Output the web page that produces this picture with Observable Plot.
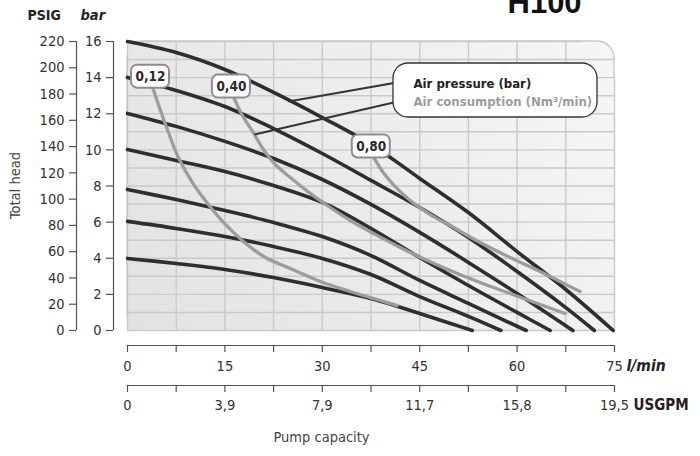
<!DOCTYPE html>
<html>
<head>
<meta charset="utf-8">
<script src="https://cdn.jsdelivr.net/npm/d3@7"></script>
<script src="https://cdn.jsdelivr.net/npm/@observablehq/plot@0.6"></script>
<style>
  html, body { margin: 0; padding: 0; background: #fff; }
  svg text { font-stretch: condensed; }
</style>
</head>
<body>
<div id="chart"></div>
<script>
// ---------- axis ticks & labels ----------
const lminTicks = [0, 15, 30, 45, 60, 75];
const lminMinor = [0, 7.5, 15, 22.5, 30, 37.5, 45, 52.5, 60, 67.5, 75];
const usgpmLabels = ["0", "3,9", "7,9", "11,7", "15,8", "19,5"];
const barTicks = [0, 2, 4, 6, 8, 10, 12, 14, 16];
const psigTicks = [0, 20, 40, 60, 80, 100, 120, 140, 160, 180, 200, 220];
const gridX = [7.5, 15, 22.5, 30, 37.5, 45, 52.5, 60, 67.5];
const gridY = [1, 2, 3, 4, 5, 6, 7, 8, 9, 10, 11, 12, 13, 14, 15];

// ---------- air pressure curves (flow l/min, head bar) ----------
const p16_q = [0, 7.5, 15, 22.5, 30, 37.5, 45, 52.5, 60, 67.5, 74.8];
const p16_h = [16.0, 15.39, 14.45, 13.18, 11.79, 10.30, 8.42, 6.53, 4.37, 2.27, 0];
const p14_q = [0, 7.5, 15, 22.5, 30, 37.5, 45, 52.5, 60, 67.5, 71.9];
const p14_h = [14.01, 13.29, 12.40, 11.18, 9.80, 8.31, 6.81, 5.15, 3.27, 1.27, 0];
const p12_q = [0, 7.5, 15, 22.5, 30, 37.5, 45, 52.5, 60, 68.6];
const p12_h = [12.02, 11.30, 10.47, 9.52, 8.36, 6.98, 5.43, 3.77, 2.05, 0];
const p10_q = [0, 7.5, 15, 22.5, 30, 37.5, 45, 52.5, 60, 65.1];
const p10_h = [10.02, 9.41, 8.80, 8.03, 7.09, 5.65, 4.04, 2.49, 1.0, 0];
const p8_q = [0, 7.5, 15, 22.5, 30, 37.5, 45, 52.5, 61.4];
const p8_h = [7.81, 7.25, 6.64, 5.98, 5.20, 4.15, 2.77, 1.50, 0];
const p6_q = [0, 7.5, 15, 22.5, 30, 37.5, 45, 52.5, 57.5];
const p6_h = [6.04, 5.65, 5.20, 4.65, 3.99, 3.10, 1.88, 0.78, 0];
const p4_q = [0, 7.5, 15, 22.5, 30, 37.5, 45, 50, 53.1];
const p4_h = [3.99, 3.71, 3.38, 2.93, 2.38, 1.77, 0.94, 0.36, 0];

// ---------- air consumption curves ----------
const consLabels = ["0,12", "0,40", "0,80"];
const c012_q = [3.85, 5.08, 6.31, 7.69, 10.0, 12.46, 15.08, 17.85, 21.23, 25.08, 29.69, 34.31, 38.92, 41.54];
const c012_h = [13.5, 12.18, 10.96, 9.69, 8.19, 6.98, 5.87, 4.93, 4.04, 3.43, 2.71, 2.16, 1.66, 1.38];
const c040_q = [16.31, 17.69, 19.38, 20.92, 22.77, 25.08, 28.15, 31.23, 34.31, 38.15, 42.0, 45.85, 49.69, 54.31, 58.92, 63.54, 67.38];
const c040_h = [12.95, 11.90, 10.96, 10.02, 9.19, 8.47, 7.59, 6.81, 6.09, 5.32, 4.60, 3.93, 3.32, 2.66, 2.05, 1.44, 0.94];
const c080_q = [37.85, 39.38, 41.23, 43.54, 46.62, 49.69, 54.31, 58.92, 63.54, 66.62, 69.69];
const c080_h = [9.63, 8.75, 7.97, 7.20, 6.42, 5.81, 4.87, 4.04, 3.27, 2.71, 2.16];

// ---------- texts ----------
const titleText = "H100";
const legendTexts = ["Air pressure (bar)", "Air consumption (Nm³/min)"];
const xUnitLabels = ["l/min", "USGPM"];
const xTitle = "Pump capacity";
const yTitle = "Total head";
const yUnitLabels = ["PSIG", "bar"];

// ---------- build tables ----------
const pressureCurves = [[p16_q, p16_h], [p14_q, p14_h], [p12_q, p12_h], [p10_q, p10_h], [p8_q, p8_h], [p6_q, p6_h], [p4_q, p4_h]];
const pressureData = pressureCurves.flatMap(([qs, hs], i) => qs.map((q, j) => ({curve: i, q, h: hs[j]})));
const consCurves = [[c012_q, c012_h], [c040_q, c040_h], [c080_q, c080_h]];
const consData = consCurves.flatMap(([qs, hs], i) => qs.map((q, j) => ({curve: consLabels[i], q, h: hs[j]})));
const consLabelData = consCurves.map(([qs, hs], i) => ({label: consLabels[i], q: qs[0], h: hs[0]}));

// ---------- layout helpers (pixel -> data units for annotations) ----------
const W = 700, H = 456, ML = 127, MR = 86, MT = 41, MB = 126;
const QMAX = 75, HMAX = 16;
const px2x = p => (p - ML) / (W - ML - MR) * QMAX;
const py2y = p => (H - MB - p) / (H - MB - MT) * HMAX;
const dxPx = p => p / (W - ML - MR) * QMAX;
const dyPx = p => p / (H - MB - MT) * HMAX;
const psi2bar = v => v * HMAX / 220;

const font = "'DejaVu Sans Condensed', 'DejaVu Sans', sans-serif";
const axisColor = "#555";
const labelColor = "#333";
const gridColor = "#c9c9c9";

const bw = dxPx(19), bh = dyPx(11.5);

const chart = Plot.plot({
  width: W, height: H,
  marginLeft: ML, marginRight: MR, marginTop: MT, marginBottom: MB,
  x: {domain: [0, QMAX], axis: null},
  y: {domain: [0, HMAX], axis: null},
  style: {fontFamily: font, fontStretch: "condensed", background: "white", overflow: "visible"},
  marks: [
    // plot background with rounded top-right corner
    Plot.rect([0], {x1: 0, x2: QMAX, y1: 0, y2: HMAX, fill: "url(#bgGrad)", stroke: gridColor, strokeWidth: 1.4, rx: 17}),
    Plot.rect([0], {x1: 0, x2: 70, y1: 0, y2: HMAX, fill: "url(#bgGrad)"}),
    Plot.rect([0], {x1: 0, x2: QMAX, y1: 0, y2: 14, fill: "url(#bgGrad)"}),
    // grid
    Plot.ruleX(gridX, {stroke: gridColor, strokeWidth: 1.4}),
    Plot.ruleY(gridY, {stroke: gridColor, strokeWidth: 1.4}),
    // borders
    Plot.ruleX([0], {y1: 0, y2: HMAX, stroke: gridColor, strokeWidth: 1.4}),
    Plot.ruleY([0], {x1: 0, x2: QMAX, stroke: gridColor, strokeWidth: 1.4}),
    Plot.ruleY([HMAX], {x1: 0, x2: 70, stroke: gridColor, strokeWidth: 1.4}),
    Plot.ruleX([QMAX], {y1: 0, y2: 14, stroke: gridColor, strokeWidth: 1.4}),

    // air pressure curves
    Plot.line(pressureData, {x: "q", y: "h", z: "curve", stroke: "#2e2e2e", strokeWidth: 3.6, curve: "catmull-rom"}),
    // air consumption curves
    Plot.line(consData, {x: "q", y: "h", z: "curve", stroke: "#9c9c9c", strokeWidth: 3.3, curve: "catmull-rom"}),

    // leader lines to legend
    Plot.link([
      {x1: px2x(402), y1: py2y(81), x2: px2x(288), y2: py2y(101)},
      {x1: px2x(402), y1: py2y(100), x2: px2x(254), y2: py2y(134)}
    ], {x1: "x1", y1: "y1", x2: "x2", y2: "y2", stroke: "#333", strokeWidth: 1.8}),

    // legend box
    Plot.rect([0], {x1: px2x(393), x2: px2x(597), y1: py2y(117), y2: py2y(63), rx: 15, fill: "white", stroke: "#333", strokeWidth: 1.3}),
    Plot.text([legendTexts[0]], {x: px2x(413), y: py2y(83), text: d => d, textAnchor: "start", fontSize: 13, fontWeight: "bold", fill: "#222"}),
    Plot.text([legendTexts[1]], {x: px2x(413), y: py2y(101), text: d => d, textAnchor: "start", fontSize: 13, fontWeight: "bold", fill: "#9c9c9c"}),

    // consumption label boxes
    Plot.rect(consLabelData, {x1: d => d.q - bw, x2: d => d.q + bw, y1: d => d.h - bh, y2: d => d.h + bh, dx: -2, dy: -10, rx: 6, fill: "white", stroke: "#8d8d8d", strokeWidth: 2}),
    Plot.text(consLabelData, {x: "q", y: "h", text: "label", dx: -2, dy: -10, fontSize: 13.5, fill: "#2a2a2a", fontWeight: "bold"}),

    // ---- left axes ----
    Plot.ruleX([px2x(76)], {y1: 0, y2: HMAX, stroke: axisColor, strokeWidth: 1.2}),
    Plot.ruleY(psigTicks, {y: psi2bar, x1: px2x(69), x2: px2x(76), stroke: axisColor, strokeWidth: 1.2}),
    Plot.text(psigTicks, {y: psi2bar, x: px2x(64), text: d => String(d), textAnchor: "end", fontSize: 14.5, fill: labelColor}),
    Plot.ruleX([px2x(113)], {y1: 0, y2: HMAX, stroke: axisColor, strokeWidth: 1.2}),
    Plot.ruleY(barTicks, {y: d => d, x1: px2x(106), x2: px2x(113), stroke: axisColor, strokeWidth: 1.2}),
    Plot.text(barTicks, {y: d => d, x: px2x(101), text: d => String(d), textAnchor: "end", fontSize: 14.5, fill: labelColor}),
    Plot.text([yUnitLabels[0]], {x: px2x(27), y: py2y(15), text: d => d, textAnchor: "start", fontSize: 14, fontWeight: "bold", fill: "#222"}),
    Plot.text([yUnitLabels[1]], {x: px2x(80), y: py2y(15), text: d => d, textAnchor: "start", fontSize: 14.5, fontWeight: "bold", fontStyle: "italic", fill: "#222"}),
    Plot.text([yTitle], {x: px2x(15), y: py2y(185), text: d => d, rotate: -90, fontSize: 14.5, fill: "#444"}),

    // ---- bottom axes ----
    Plot.ruleY([py2y(345)], {x1: 0, x2: QMAX, stroke: axisColor, strokeWidth: 1.2}),
    Plot.ruleX(lminMinor, {x: d => d, y1: py2y(345), y2: py2y(352), stroke: axisColor, strokeWidth: 1.2}),
    Plot.text(lminTicks, {x: d => d, y: py2y(366), text: d => String(d), fontSize: 14.5, fill: labelColor}),
    Plot.text([xUnitLabels[0]], {x: px2x(626), y: py2y(366), text: d => d, textAnchor: "start", fontSize: 15.5, fontWeight: "bold", fontStyle: "italic", fill: "#222"}),

    Plot.ruleY([py2y(385)], {x1: 0, x2: QMAX, stroke: axisColor, strokeWidth: 1.2}),
    Plot.ruleX(lminMinor, {x: d => d, y1: py2y(385), y2: py2y(392), stroke: axisColor, strokeWidth: 1.2}),
    Plot.text(lminTicks, {x: d => d, y: py2y(405), text: (d, i) => usgpmLabels[i], fontSize: 14.5, fill: labelColor}),
    Plot.text([xUnitLabels[1]], {x: px2x(633), y: py2y(405), text: d => d, textAnchor: "start", fontSize: 15, fontWeight: "bold", fill: "#222"}),

    Plot.text([xTitle], {x: px2x(321), y: py2y(437), text: d => d, fontSize: 14.5, fill: "#444"}),

    // title
    Plot.text([titleText], {x: px2x(507), y: py2y(12), text: d => d, textAnchor: "start", lineAnchor: "bottom", fontSize: 31, fontWeight: "bold", fontFamily: "'Liberation Sans', Arial, sans-serif", fill: "#111"})
  ]
});

// gradient for plot background
const svg = d3.select(chart.tagName.toLowerCase() === "svg" ? chart : chart.querySelector("svg"));
const defs = svg.insert("defs", ":first-child");
const grad = defs.append("linearGradient")
  .attr("id", "bgGrad")
  .attr("gradientUnits", "userSpaceOnUse")
  .attr("x1", ML).attr("y1", H - MB)
  .attr("x2", W - MR).attr("y2", MT);
grad.append("stop").attr("offset", "0%").attr("stop-color", "#e2e2e2");
grad.append("stop").attr("offset", "100%").attr("stop-color", "#f6f6f6");

document.getElementById("chart").appendChild(chart);
</script>
</body>
</html>
